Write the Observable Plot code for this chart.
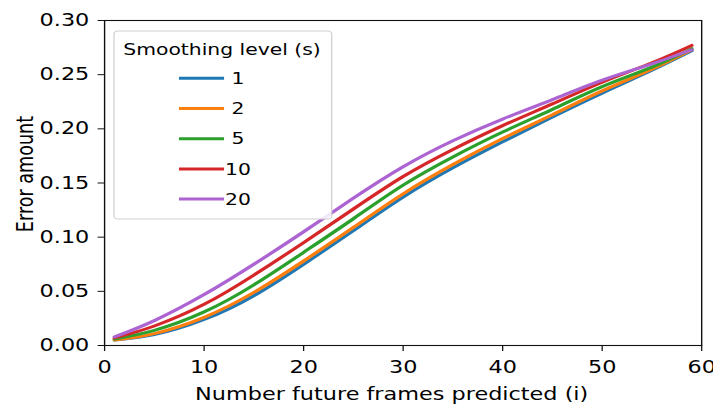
<!DOCTYPE html>
<html>
<head>
<meta charset="utf-8">
<script src="https://cdn.jsdelivr.net/npm/d3@7"></script>
<script src="https://cdn.jsdelivr.net/npm/@observablehq/plot@0.6"></script>
<style>
  html, body { margin: 0; padding: 0; background: #fff; }
  #chart { width: 713px; height: 408px; overflow: hidden; }
</style>
</head>
<body>
<div id="chart"></div>
<script>
// ---- data ----
const frames = [1, 5, 10, 15, 20, 25, 30, 35, 40, 45, 50, 55, 59];
const levels = ["1", "2", "5", "10", "20"];
const err1  = [0.005, 0.010, 0.024, 0.046, 0.075, 0.106, 0.137, 0.164, 0.188, 0.211, 0.233, 0.254, 0.272];
const err2  = [0.005, 0.011, 0.026, 0.049, 0.078, 0.109, 0.140, 0.167, 0.191, 0.213, 0.235, 0.255, 0.273];
const err5  = [0.006, 0.014, 0.031, 0.056, 0.086, 0.117, 0.148, 0.174, 0.197, 0.218, 0.239, 0.257, 0.274];
const err10 = [0.007, 0.018, 0.038, 0.065, 0.095, 0.126, 0.156, 0.181, 0.203, 0.223, 0.243, 0.261, 0.277];
const err20 = [0.008, 0.023, 0.047, 0.075, 0.105, 0.136, 0.165, 0.189, 0.209, 0.227, 0.245, 0.260, 0.273];
const xTicks = [0, 10, 20, 30, 40, 50, 60];
const yTicks = [0, 0.05, 0.10, 0.15, 0.20, 0.25, 0.30];
const colors = ["#1f77b4", "#ff7f0e", "#2ca02c", "#d62728", "#ac64d2"];
const xLabel = "Number future frames predicted (i)";
const yLabel = "Error amount";
const legendTitle = "Smoothing level (s)";

const seriesValues = [err1, err2, err5, err10, err20];
const data = [];
levels.forEach((lv, k) => frames.forEach((f, i) => data.push({level: lv, x: f, y: seriesValues[k][i]})));

// ---- layout (internal units; the SVG is stretched horizontally like the reference) ----
const W = 561, H = 408, SX = 713 / W;
const mL = 81.8, mR = 9.4, mT = 20, mB = 63;
const FS = 17.6, LFS = 16;

const chart = Plot.plot({
  width: W, height: H,
  marginLeft: mL, marginRight: mR, marginTop: mT, marginBottom: mB,
  style: {fontFamily: "DejaVu Sans", fontSize: FS + "px", color: "#000", background: "#fff"},
  x: {domain: [0, 60], label: null},
  y: {domain: [0, 0.30], label: null},
  color: {domain: levels, range: colors},
  marks: [
    Plot.line(data, {x: "x", y: "y", z: "level", stroke: "level", curve: "natural", strokeWidth: 3}),
    Plot.frame({stroke: "#111", strokeWidth: 1.1}),
    Plot.axisX({ticks: xTicks, tickFormat: d => String(d), tickSize: 6, tickPadding: 9, fontSize: FS, label: null, stroke: "#111"}),
    Plot.axisY({ticks: yTicks, tickFormat: d => d.toFixed(2), tickSize: 5, tickPadding: 7, fontSize: FS, label: null, stroke: "#111"}),
    Plot.text([xLabel], {text: d => d, frameAnchor: "bottom", dy: 49, dx: -9, fontSize: FS, textAnchor: "middle", lineAnchor: "middle"}),
    Plot.text([yLabel], {text: d => d, frameAnchor: "left", dx: -62, dy: -9, rotate: -90, fontSize: FS, textAnchor: "middle", lineAnchor: "middle"})
  ]
});

// legend (drawn with d3 into the same svg)
const svg = d3.select(chart);
const lg = svg.append("g").attr("font-family", "DejaVu Sans").attr("font-size", LFS);
const bx = 89.7, by = 31, bw = 171.3, bh = 188;
lg.append("rect").attr("x", bx).attr("y", by).attr("width", bw).attr("height", bh)
  .attr("rx", 3).attr("fill", "#fff").attr("fill-opacity", 0.85).attr("stroke", "#d0d0d0").attr("stroke-width", 1);
lg.append("text").attr("x", 174.7).attr("y", 49).attr("dy", "0.35em").attr("text-anchor", "middle").text(legendTitle);
levels.forEach((lv, i) => {
  const yy = 78.3 + i * 30.2;
  lg.append("line").attr("x1", 140.8).attr("x2", 176.3).attr("y1", yy).attr("y2", yy)
    .attr("stroke", colors[i]).attr("stroke-width", 3);
  lg.append("text").attr("x", 187.3).attr("y", yy).attr("dy", "0.36em").text(lv);
});

chart.setAttribute("width", 713);
chart.setAttribute("height", 408);
chart.setAttribute("viewBox", `0 0 ${W} ${H}`);
chart.setAttribute("preserveAspectRatio", "none");
chart.style.width = "713px";
chart.style.height = "408px";
chart.style.maxWidth = "none";
document.getElementById("chart").appendChild(chart);
</script>
</body>
</html>
